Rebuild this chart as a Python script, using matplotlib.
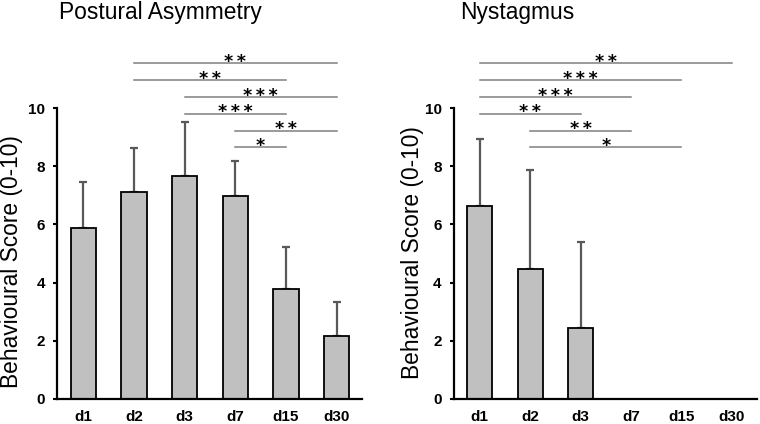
import matplotlib
matplotlib.use("Agg")
import matplotlib.pyplot as plt

days = ["d1", "d2", "d3", "d7", "d15", "d30"]

postural_mean = [5.89, 7.10, 7.65, 6.98, 3.79, 2.16]
postural_sd = [1.56, 1.53, 1.87, 1.20, 1.44, 1.18]

nystagmus_mean = [6.64, 4.46, 2.44, 0.0, 0.0, 0.0]
nystagmus_sd = [2.31, 3.42, 2.96, 0.0, 0.0, 0.0]

# significance brackets: (start index, end index, label, height)
postural_sig = [(1, 5, "**", 11.54), (1, 4, "**", 10.96), (2, 5, "***", 10.38),
                (2, 4, "***", 9.80), (3, 5, "**", 9.22), (3, 4, "*", 8.66)]
nystagmus_sig = [(0, 5, "**", 11.54), (0, 4, "***", 10.96), (0, 3, "***", 10.38),
                 (0, 2, "**", 9.80), (1, 3, "**", 9.22), (1, 4, "*", 8.66)]

yticks = [0, 2, 4, 6, 8, 10]

fig = plt.figure(figsize=(7.6, 4.24), dpi=100)
FONT = "Liberation Sans"

def panel(rect, means, sds, sig, title, title_x, ylabel_x, ylabel_y):
    ax = fig.add_axes(rect)
    x = list(range(len(days)))
    ax.bar(x, means, width=0.5, color="#c0c0c0", edgecolor="black", linewidth=1.3, zorder=2)
    for xi, m, s in zip(x, means, sds):
        if s > 0:
            ax.errorbar([xi], [m], yerr=[[0], [s]], fmt="none", ecolor="#595959",
                        elinewidth=1.6, capsize=3, capthick=1.6, zorder=1)
    ax.set_xlim(-0.52, 5.5)
    ax.set_ylim(0, 10)
    ax.set_yticks(yticks)
    ax.set_xticks(x)
    ax.set_xticklabels(days)
    for lab in ax.get_xticklabels() + ax.get_yticklabels():
        lab.set_fontfamily(FONT)
        lab.set_fontweight("bold")
        lab.set_fontsize(11)
    ax.tick_params(axis="y", direction="out", length=3, width=1.5, pad=5.5)
    ax.tick_params(axis="x", length=0, pad=8)
    for sp in ["top", "right"]:
        ax.spines[sp].set_visible(False)
    for sp in ["left", "bottom"]:
        ax.spines[sp].set_linewidth(1.6)
    for a, b, lab, h in sig:
        ax.plot([a, b], [h, h], color="#7f7f7f", lw=1.1, clip_on=False, zorder=3)
        ax.annotate("\u2009".join(lab), xy=((a + b) / 2, h), xytext=(0, -2.6),
                    textcoords="offset points", ha="center", va="baseline",
                    fontsize=12.5, fontweight="bold", family="DejaVu Sans",
                    annotation_clip=False)
    fig.text(title_x / 760, 1 - 19.3 / 424, title, ha="left", va="baseline",
             fontsize=16.4, family=FONT)
    fig.text(ylabel_x / 760, 1 - ylabel_y / 424, "Behavioural Score (0-10)", rotation=90,
             ha="center", va="center", fontsize=16.4, family=FONT)
    return ax

bottom = (424 - 399) / 424
height = 291 / 424
panel([57 / 760, bottom, 305 / 760, height], postural_mean, postural_sd, postural_sig,
      "Postural Asymmetry", 59, 12, 262)
panel([453.5 / 760, bottom, 303.5 / 760, height], nystagmus_mean, nystagmus_sd, nystagmus_sig,
      "Nystagmus", 460, 412, 253)

fig.savefig("out.png", dpi=100)
